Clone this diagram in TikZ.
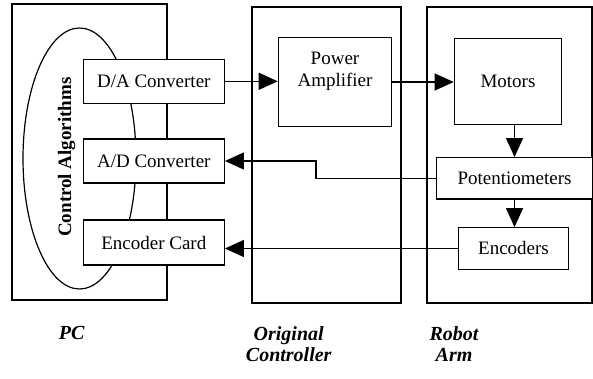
\documentclass[tikz,border=0pt]{standalone}
\usepackage{fontspec}
\setmainfont{Liberation Serif}
\usetikzlibrary{arrows.meta,shapes.geometric}
\begin{document}
\begin{tikzpicture}[x=1pt,y=-1pt,
  every node/.style={font=\fontsize{19}{22}\selectfont},
  group/.style={draw,line width=1.2pt,rectangle,inner sep=0pt},
  blk/.style={draw,line width=1.2pt,rectangle,fill=white,inner sep=0pt,align=center},
  conn/.style={line width=1.2pt,-{Triangle[length=19pt,width=17pt]}},
  captext/.style={font=\fontsize{20}{21}\selectfont\bfseries\itshape,align=center}]
\useasboundingbox (0,0) rectangle (593,379);
% group boxes
\node[group,minimum width=155pt,minimum height=296pt] (pc) at (89.5,152) {};
\node[group,minimum width=149pt,minimum height=296pt] (oc) at (326.5,155) {};
\node[group,minimum width=165pt,minimum height=296pt] (ra) at (509.5,155) {};
% ellipse
\node[draw,line width=1.2pt,ellipse,minimum width=113pt,minimum height=261pt,inner sep=0pt] (alg) at (79.5,158.5) {};
\node[rotate=90,font=\fontsize{19}{22}\selectfont\bfseries] (algt) at (66.7,157) {Control Algorithms};
% blocks
\node[blk,minimum width=141pt,minimum height=44pt] (da) at (153.8,81.3) {D/A Converter};
\node[blk,minimum width=141pt,minimum height=44pt] (ad) at (153.8,161) {A/D Converter};
\node[blk,minimum width=141pt,minimum height=45pt] (ec) at (153.8,242.5) {Encoder Card};
\node[blk,minimum width=113.4pt,minimum height=89.4pt] (pa) at (335,82) {};
\node[align=center] (pat) at (335,71) {Power\\Amplifier};
\node[blk,minimum width=107.4pt,minimum height=86pt] (mot) at (508,81.3) {Motors};
\node[blk,minimum width=155.6pt,minimum height=41.3pt] (pot) at (514.5,178.3) {Potentiometers};
\node[blk,minimum width=109.6pt,minimum height=41.6pt] (enc) at (513.5,248.5) {Encoders};
\coordinate (bend) at (316,170);
% connectors
\draw[conn] (da.east) -- (da.east -| pa.west);
\draw[conn] (pa.east) -- (pa.east -| mot.west);
\draw[conn] (pot.north |- mot.south) -- (pot.north);
\draw[conn] (pot.south) -- (pot.south |- enc.north);
\draw[conn] (pot.west) -- (pot.west -| bend) |- (ad.east);
\draw[conn] (enc.west) -- (enc.west -| ec.east);
% captions
\node[captext] (pcl) at (71.7,333) {PC};
\node[captext] (ocl) at (288.7,344.5) {Original\\Controller};
\node[captext] (ral) at (454,344.5) {Robot\\Arm};
\end{tikzpicture}
\end{document}
